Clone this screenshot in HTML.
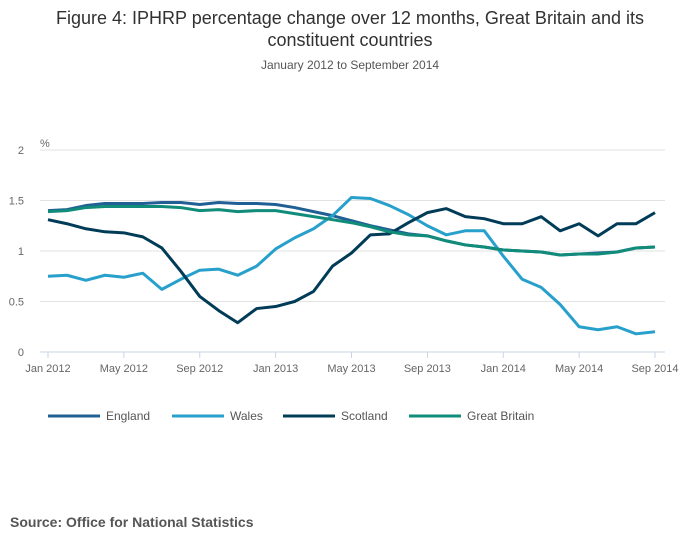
<!DOCTYPE html>
<html><head><meta charset="utf-8"><style>
body{margin:0;background:#fff;font-family:"Liberation Sans",sans-serif;}
#wrap{position:relative;width:700px;height:549px;overflow:hidden;}
</style></head><body>
<div id="wrap">
<svg id="chart" width="700" height="549">
<text x="350" y="24" text-anchor="middle" font-size="18" fill="#323132">Figure 4: IPHRP percentage change over 12 months, Great Britain and its</text>
<text x="350" y="46" text-anchor="middle" font-size="18" fill="#323132">constituent countries</text>
<text x="350" y="69" text-anchor="middle" font-size="12" fill="#555">January 2012 to September 2014</text>
<text x="40" y="147" font-size="11" fill="#666">%</text>
<g id="grid"></g><g id="xaxis"></g><g id="lines"></g><g id="legend"></g>
<text x="10" y="527" font-size="14" font-weight="bold" fill="#555">Source: Office for National Statistics</text>
</svg></div>
<script>
const yTicks=[0,0.5,1,1.5,2];
const xTickLabels=["Jan 2012","May 2012","Sep 2012","Jan 2013","May 2013","Sep 2013","Jan 2014","May 2014","Sep 2014"];
const england=[1.40,1.41,1.45,1.47,1.47,1.47,1.48,1.48,1.46,1.48,1.47,1.47,1.46,1.43,1.39,1.35,1.30,1.25,1.21,1.17,1.15,1.10,1.06,1.04,1.01,1.00,0.99,0.96,0.97,0.98,0.99,1.03,1.04];
const wales=[0.75,0.76,0.71,0.76,0.74,0.78,0.62,0.72,0.81,0.82,0.76,0.85,1.02,1.13,1.22,1.35,1.53,1.52,1.45,1.36,1.25,1.16,1.20,1.20,0.95,0.72,0.64,0.47,0.25,0.22,0.25,0.18,0.20];
const scotland=[1.31,1.27,1.22,1.19,1.18,1.14,1.03,0.80,0.55,0.41,0.29,0.43,0.45,0.50,0.60,0.85,0.98,1.16,1.17,1.28,1.38,1.42,1.34,1.32,1.27,1.27,1.34,1.20,1.27,1.15,1.27,1.27,1.38];
const gb=[1.39,1.40,1.43,1.44,1.44,1.44,1.44,1.43,1.40,1.41,1.39,1.40,1.40,1.37,1.34,1.31,1.28,1.24,1.19,1.16,1.15,1.10,1.06,1.04,1.01,1.00,0.99,0.96,0.97,0.97,0.99,1.03,1.04];
const seriesNames=["England","Wales","Scotland","Great Britain"];
const NS="http://www.w3.org/2000/svg";
const x=i=>48+i*(655-48)/32, y=v=>352-v*101;
function mk(tag,attrs,parent){const e=document.createElementNS(NS,tag);for(const k in attrs)e.setAttribute(k,attrs[k]);parent.appendChild(e);return e;}
const grid=document.getElementById('grid');
yTicks.forEach(t=>{
 const l=mk('line',{x1:40,x2:665,y1:y(t),y2:y(t),stroke:t===0?'#c8d4e6':'#e2e2e2','stroke-width':1},grid);
 
 
 const tx=mk('text',{x:24,y:y(t)+4,'font-size':11,fill:'#666','text-anchor':'end'},grid);tx.textContent=t;
 
 
});
const xa=document.getElementById('xaxis');
xTickLabels.forEach((s,i)=>{
 const xi=x(i*4);
 const l=mk('line',{x1:xi,x2:xi,y1:352,y2:358,stroke:'#c8d4e6'},xa);
 
 
 const tx=mk('text',{x:xi,y:372,'font-size':11,fill:'#666','text-anchor':'middle'},xa);tx.textContent=s;
 
 
});
const data=[england,wales,scotland,gb], colors=['#206095','#27a0cc','#003c57','#118c7b'];
const lines=document.getElementById('lines');
data.forEach((d,k)=>{
 const p=mk('polyline',{points:d.map((v,i)=>x(i)+','+y(v)).join(' '),fill:'none',stroke:colors[k],'stroke-width':3,'stroke-linejoin':'round'},lines);
 
 
});
const lg=document.getElementById('legend');
const lx=[48,172,283,409];
seriesNames.forEach((n,k)=>{
 const l=mk('line',{x1:lx[k],x2:lx[k]+52,y1:416,y2:416,stroke:colors[k],'stroke-width':3},lg);
 
 
 const t=mk('text',{x:lx[k]+58,y:420,'font-size':12,fill:'#555'},lg);t.textContent=n;
 
 
});
</script>
</body></html>
